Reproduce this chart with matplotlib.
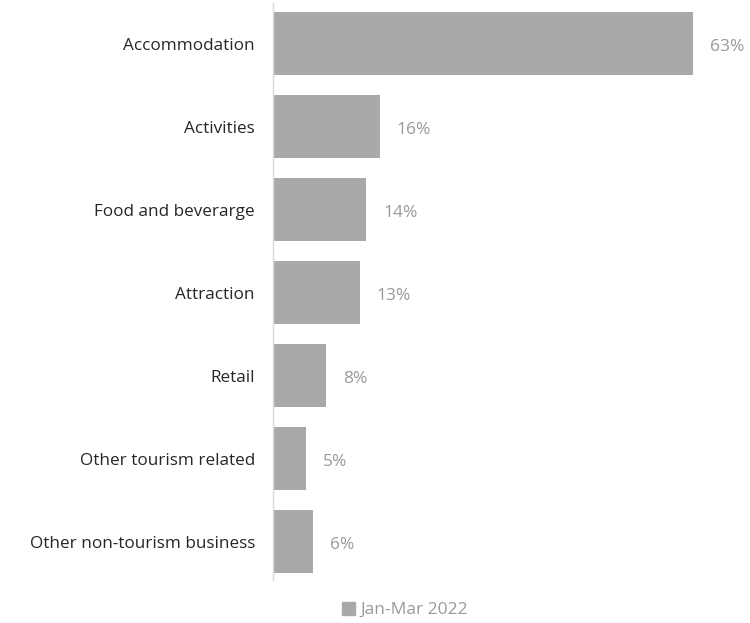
import matplotlib.pyplot as plt
from matplotlib.patches import Patch

categories = ["Accommodation", "Activities", "Food and beverarge", "Attraction",
              "Retail", "Other tourism related", "Other non-tourism business"]
shares = [63, 16, 14, 13, 8, 5, 6]
series_name = "Jan-Mar 2022"

bar_color = "#A9A9A9"

plt.rcParams['font.family'] = ['Open Sans', 'DejaVu Sans']

fig = plt.figure(figsize=(7.5, 6.23), dpi=100)
# axes placed in pixel terms: left at 273px, top at 3px, bottom at 580px
ax = fig.add_axes([273 / 750, 1 - 580 / 623, 467 / 750, 577 / 623])

ypos = list(range(len(categories)))
ax.barh(ypos, shares, height=0.76, color=bar_color)
ax.set_xlim(0, 70)
ax.set_ylim(len(categories) - 0.536, -0.49)

for y, v in zip(ypos, shares):
    ax.text(v + 2.5, y + 0.04, f"{v}%", va="center", ha="left", fontsize=12.5, color="#999999")

ax.set_yticks(ypos)
ax.set_yticklabels(categories, fontsize=12.3, color="#262626")
ax.tick_params(axis="y", length=0, pad=13)
ax.set_xticks([])

for side in ["top", "right", "bottom"]:
    ax.spines[side].set_visible(False)
ax.spines["left"].set_color("#D9D9D9")
ax.spines["left"].set_linewidth(1.0)

fig.legend(handles=[Patch(color=bar_color, label=series_name)],
           loc="center", bbox_to_anchor=(405 / 750, 1 - 610 / 623),
           frameon=False, fontsize=12.5, handlelength=0.75, handleheight=0.75,
           handletextpad=0.3, labelcolor="#999999")

fig.savefig("out.png", dpi=100)
